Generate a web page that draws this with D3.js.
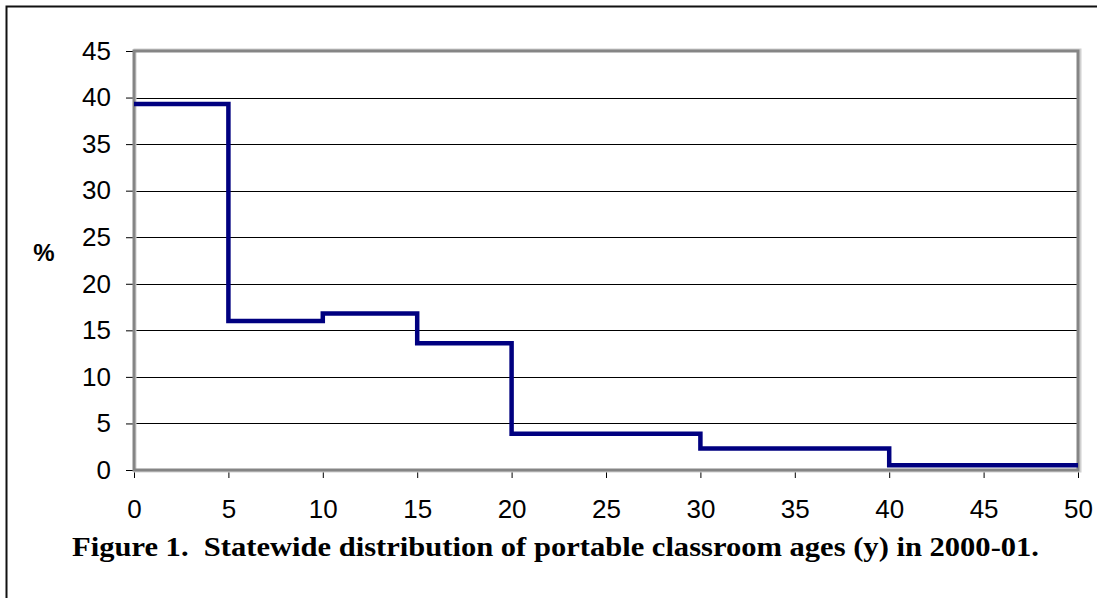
<!DOCTYPE html>
<html>
<head>
<meta charset="utf-8">
<script src="https://cdn.jsdelivr.net/npm/d3@7"></script>
<style>
  body { margin: 0; background: #fff; }
  .tick text { font-family: 'Liberation Sans', Arial, sans-serif; font-size: 26px; fill: #000; }
  .tick line { stroke: #000; }
  .grid line { stroke: #000; stroke-width: 1; }
</style>
</head>
<body>
<svg id="chart" width="1097" height="598"></svg>
<script>
// bin edges (age in years) and share of portable classrooms (%)
const ageEdges = [0, 5, 10, 15, 20, 30, 40, 50]
const percents = [39.3, 16.0, 16.8, 13.6, 3.9, 2.3, 0.5]
const xTicks = [0, 5, 10, 15, 20, 25, 30, 35, 40, 45, 50]
const yTicks = [0, 5, 10, 15, 20, 25, 30, 35, 40, 45]
const caption = 'Figure 1.  Statewide distribution of portable classroom ages (y) in 2000-01.'

const svg = d3.select('#chart')
const plot = { left: 134, right: 1078, top: 51, bottom: 470 }

const x = d3.scaleLinear().domain([0, 50]).range([plot.left, plot.right])
const y = d3.scaleLinear().domain([0, 45]).range([plot.bottom, plot.top])

// outer frame, runs off the right and bottom edges
svg.append('rect')
  .attr('x', 6.5).attr('y', 6.5).attr('width', 1200).attr('height', 700)
  .attr('fill', 'none').attr('stroke', '#111').attr('stroke-width', 2)

// gridlines
svg.append('g').classed('grid', true)
  .selectAll('line')
  .data(yTicks.filter(v => v > 0 && v < 45))
  .join('line')
  .attr('x1', plot.left).attr('x2', plot.right)
  .attr('y1', d => Math.round(y(d)) + 0.5).attr('y2', d => Math.round(y(d)) + 0.5)

// axes
const yAxis = d3.axisLeft(y).tickValues(yTicks).tickSize(8).tickPadding(15)
const xAxis = d3.axisBottom(x).tickValues(xTicks).tickSize(8).tickPadding(24)

svg.append('g').attr('transform', `translate(${plot.left},0)`).call(yAxis)
  .call(g => g.select('.domain').remove())
svg.append('g').attr('transform', `translate(0,${plot.bottom})`).call(xAxis)
  .call(g => g.select('.domain').remove())
  .call(g => g.selectAll('.tick text').attr('dy', '0.62em'))

// plot frame (light shadow then gray border)
svg.append('rect')
  .attr('x', plot.left + 1).attr('y', plot.top - 1)
  .attr('width', plot.right - plot.left + 1).attr('height', plot.bottom - plot.top + 2)
  .attr('fill', 'none').attr('stroke', '#d0d0d0').attr('stroke-width', 3)
svg.append('rect')
  .attr('x', plot.left).attr('y', plot.top)
  .attr('width', plot.right - plot.left).attr('height', plot.bottom - plot.top)
  .attr('fill', 'none').attr('stroke', '#858585').attr('stroke-width', 3)

// step line
const stepData = ageEdges.map((a, i) => [a, percents[Math.min(i, percents.length - 1)]])
const line = d3.line()
  .x(d => x(d[0]))
  .y(d => y(d[1]))
  .curve(d3.curveStepAfter)
svg.append('path')
  .datum(stepData)
  .attr('d', line)
  .attr('fill', 'none')
  .attr('stroke', '#000080')
  .attr('stroke-width', 4.5)

// y label
svg.append('text')
  .attr('x', 44).attr('y', 261)
  .attr('text-anchor', 'middle')
  .style('font-family', "'Liberation Sans', Arial, sans-serif")
  .style('font-weight', 'bold')
  .style('font-size', '24px')
  .text('%')

// caption
svg.append('text')
  .attr('x', 72).attr('y', 556)
  .attr('textLength', 967)
  .attr('lengthAdjust', 'spacingAndGlyphs')
  .style('font-family', "'Liberation Serif', 'Times New Roman', serif")
  .style('font-weight', 'bold')
  .style('font-size', '27px')
  .style('white-space', 'pre')
  .text(caption)
</script>
</body>
</html>
